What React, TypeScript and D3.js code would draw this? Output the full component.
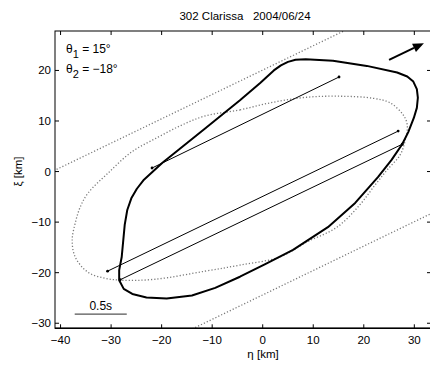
import React from "react";
import * as d3 from "d3";

const titleText = "302 Clarissa   2004/06/24";
const xTicks = [-40, -30, -20, -10, 0, 10, 20, 30];
const yTicks = [-30, -20, -10, 0, 10, 20];

// Asteroid profile outline (eta, xi) in km
const outline: [number, number][] = [
  [-4.5, 14.1], [-0.5, 17.5], [2.2, 20.0], [3.6, 21.0], [5.0, 21.7], [6.5, 22.1], [8.5, 22.2],
  [13.9, 21.9], [20.6, 20.9], [26.6, 19.6], [28.6, 18.8], [29.8, 17.8], [30.5, 16.3], [30.7, 14.6],
  [30.5, 12.6], [29.9, 10.6], [28.8, 7.8], [27.6, 5.4], [25.5, 2.3], [22.8, -1.1], [18.3, -6.2], [12.9, -11.0],
  [6.0, -15.5], [0.5, -18.3], [-4.5, -20.8], [-9.4, -23.0], [-14.0, -24.5],
  [-19.0, -25.1], [-23.0, -24.9], [-25.8, -24.2], [-27.5, -23.2], [-28.4, -21.5], [-28.4, -19.5],
  [-27.9, -16.9], [-27.3, -10.5], [-26.8, -7.6], [-26.0, -5.3], [-24.9, -3.4], [-23.5, -1.6],
  [-19.9, 1.7], [-11.4, 8.5],
];

// Inner dotted contour
const shadow: [number, number][] = [
  [-11.4, 11.0], [-4.5, 12.2], [2.0, 13.7], [8.7, 14.7], [15.3, 14.9], [21.8, 14.5],
  [25.2, 13.6], [27.8, 11.2], [28.6, 9.2], [28.2, 6.2], [27.2, 3.3], [24.6, 0.3],
  [22.2, -2.7], [19.2, -6.6], [14.7, -11.0], [8.8, -13.9], [3.4, -16.9], [-4.5, -18.5],
  [-11.4, -19.7], [-21.3, -21.3], [-27.8, -21.5], [-31.2, -21.1], [-34.6, -19.9],
  [-37.1, -16.9], [-37.7, -13.6], [-37.1, -10.2], [-36.1, -7.0], [-34.6, -4.3],
  [-30.6, -0.3], [-25.9, 3.9], [-20.7, 6.8], [-16.0, 9.2],
];

// Outer dotted band lines
const bandUpper: [number, number][] = [[-42.5, -0.4], [17.5, 28.5]];
const bandLower: [number, number][] = [[-14.5, -31.4], [35, -7.5]];

// Occultation chords
const chords: [number, number][][] = [
  [[-21.9, 0.7], [15.1, 18.7]],
  [[-30.7, -19.7], [26.8, 8.0]],
  [[-28.2, -21.4], [27.6, 5.4]],
];

// Motion arrow
const arrow: [number, number][] = [[25.0, 22.1], [31.9, 25.4]];

// Scale bar (0.5 s)
const scaleBar: [number, number][] = [[-37.2, -28.2], [-26.9, -28.2]];
const scaleLabel = "0.5s";

const xDomain: [number, number] = [-41.1, 33.3];
const yDomain: [number, number] = [-31, 27.8];

export default function App() {
  const left = 55, right = 431, top = 31, bottom = 328.3;
  const x = d3.scaleLinear().domain(xDomain).range([left, right]);
  const y = d3.scaleLinear().domain(yDomain).range([bottom, top]);
  const font = "'Liberation Sans', Arial, Helvetica, sans-serif";

  const closedSmooth = d3.line<[number, number]>().x(d => x(d[0])).y(d => y(d[1])).curve(d3.curveCatmullRomClosed.alpha(0.5));
  const closedLin = d3.line<[number, number]>().x(d => x(d[0])).y(d => y(d[1])).curve(d3.curveLinearClosed);
  const lin = d3.line<[number, number]>().x(d => x(d[0])).y(d => y(d[1]));

  // arrow head
  const ax0 = x(arrow[0][0]), ay0 = y(arrow[0][1]);
  const ax1 = x(arrow[1][0]), ay1 = y(arrow[1][1]);
  const ang = Math.atan2(ay1 - ay0, ax1 - ax0);
  const hl = 11, hw = 4.5;
  const bx = ax1 - hl * Math.cos(ang), by = ay1 - hl * Math.sin(ang);
  const head = `M${ax1},${ay1}L${bx + hw * Math.sin(ang)},${by - hw * Math.cos(ang)}L${bx - hw * Math.sin(ang)},${by + hw * Math.cos(ang)}Z`;
  const fmt = (t: number) => (t < 0 ? "−" + Math.abs(t) : String(t));
  const dotStyle = { fill: "none", stroke: "#7a7a7a", strokeWidth: 1.3, strokeDasharray: "1.2 2" };

  return (
    <svg width={430} height={365} style={{ position: "absolute", left: 0, top: 0, background: "#fff" }} fontFamily={font}>
      <defs>
        <clipPath id="plotclip">
          <rect x={left} y={top} width={right - left} height={bottom - top} />
        </clipPath>
      </defs>
      <text x={245} y={20} fontSize={11.5} textAnchor="middle" style={{ whiteSpace: "pre" }}>{titleText}</text>

      <g clipPath="url(#plotclip)">
        <path d={lin(bandUpper) || ""} {...dotStyle} />
        <path d={lin(bandLower) || ""} {...dotStyle} />
        <path d={closedSmooth(shadow) || ""} {...dotStyle} />
        <path d={closedLin(outline) || ""} fill="none" stroke="#000" strokeWidth={2} strokeLinejoin="round" />
        {chords.map((c, i) => (
          <g key={i}>
            <path d={lin(c) || ""} fill="none" stroke="#000" strokeWidth={1} />
            {c.map((p, j) => (
              <circle key={j} cx={x(p[0])} cy={y(p[1])} r={1.4} fill="#000" />
            ))}
          </g>
        ))}
        <line x1={ax0} y1={ay0} x2={bx} y2={by} stroke="#000" strokeWidth={2} />
        <path d={head} fill="#000" />
        <path d={lin(scaleBar) || ""} stroke="#555" strokeWidth={1.3} />
      </g>
      <text x={(x(scaleBar[0][0]) + x(scaleBar[1][0])) / 2} y={y(scaleBar[0][1]) - 4} fontSize={12} textAnchor="middle">{scaleLabel}</text>

      <text x={66} y={53} fontSize={12}>θ<tspan dy={5} fontSize={11}>1</tspan><tspan dy={-5}> = 15°</tspan></text>
      <text x={66} y={73} fontSize={12}>θ<tspan dy={5} fontSize={11}>2</tspan><tspan dy={-5}> = −18°</tspan></text>

      {/* frame */}
      <rect x={left} y={top} width={right - left} height={bottom - top} fill="none" stroke="#000" strokeWidth={1} />
      <line x1={left} y1={bottom} x2={right} y2={bottom} stroke="#000" strokeWidth={1.6} />
      {xTicks.map(t => (
        <g key={"x" + t}>
          <line x1={x(t)} x2={x(t)} y1={bottom} y2={bottom - 4} stroke="#000" strokeWidth={1} />
          <line x1={x(t)} x2={x(t)} y1={top} y2={top + 4} stroke="#000" strokeWidth={1} />
          <text x={x(t)} y={344} fontSize={11.5} textAnchor="middle">{fmt(t)}</text>
        </g>
      ))}
      {yTicks.map(t => (
        <g key={"y" + t}>
          <line x1={left} x2={left + 4} y1={y(t)} y2={y(t)} stroke="#000" strokeWidth={1} />
          <line x1={right} x2={right - 4} y1={y(t)} y2={y(t)} stroke="#000" strokeWidth={1} />
          <text x={51} y={y(t) + 4} fontSize={11.5} textAnchor="end">{fmt(t)}</text>
        </g>
      ))}
      <text x={263} y={358} fontSize={11.5} textAnchor="middle">η [km]</text>
      <text transform={`translate(22,${y(0)}) rotate(-90)`} fontSize={11.5} textAnchor="middle">ξ [km]</text>
    </svg>
  );
}
